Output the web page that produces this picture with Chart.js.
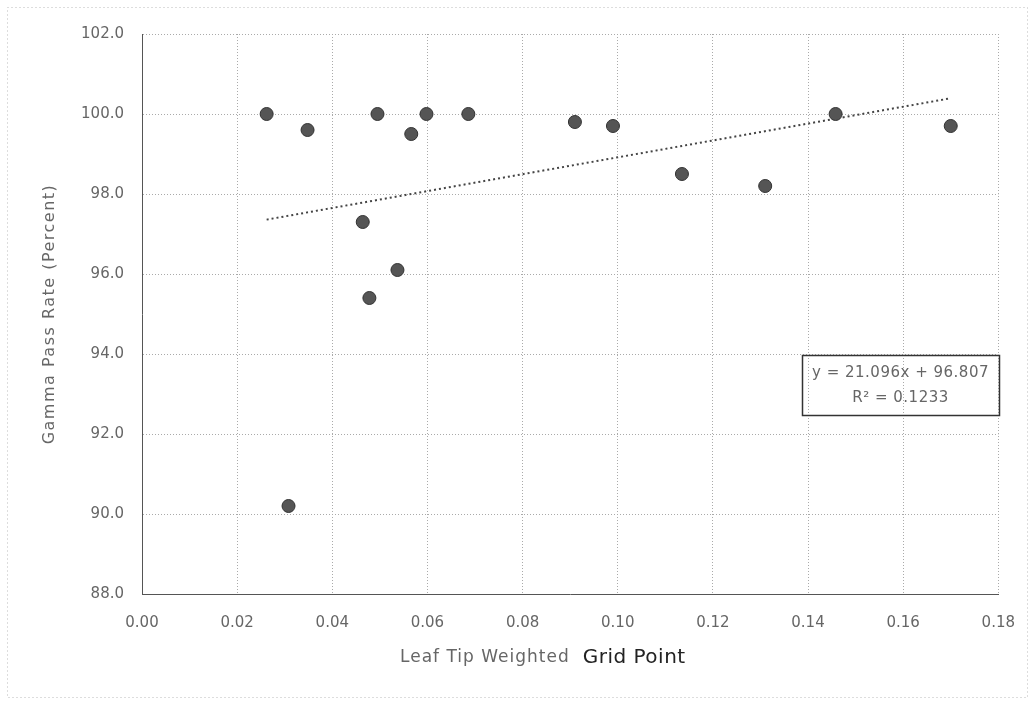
<!DOCTYPE html>
<html>
<head>
<meta charset="utf-8">
<script src="https://cdn.jsdelivr.net/npm/chart.js@4/dist/chart.umd.min.js"></script>
<style>
html,body{margin:0;padding:0;background:#fff;}
#wrap{width:1035px;height:701px;position:relative;}
</style>
</head>
<body>
<div id="wrap"><canvas id="c" width="1035" height="701"></canvas></div>
<script>
// Data
const leafTipX = [0.0262, 0.0348, 0.0495, 0.0566, 0.0598, 0.0686, 0.0910, 0.0990, 0.1135, 0.1310, 0.1458, 0.1700, 0.0464, 0.0478, 0.0537, 0.0308];
const gammaPass = [100.0, 99.6, 100.0, 99.5, 100.0, 100.0, 99.8, 99.7, 98.5, 98.2, 100.0, 99.7, 97.3, 95.4, 96.1, 90.2];
const trendSlope = 21.096;
const trendIntercept = 96.807;
const trendRange = [0.0262, 0.1700];
const xTicks = [0, 0.02, 0.04, 0.06, 0.08, 0.10, 0.12, 0.14, 0.16, 0.18];
const yTicks = [88, 90, 92, 94, 96, 98, 100, 102];
const equationLines = ['y = 21.096x + 96.807', 'R\u00B2 = 0.1233'];
const yTitle = 'Gamma Pass Rate (Percent)';
const xTitleParts = ['Leaf Tip Weighted', 'Grid Point'];

const scatterPts = leafTipX.map((x, i) => ({x: x, y: gammaPass[i]}));
const trendPts = trendRange.map(x => ({x: x, y: trendSlope * x + trendIntercept}));

const FONT = '"DejaVu Sans", "Liberation Sans", sans-serif';

const decor = {
  id: 'decor',
  beforeDraw(chart) {
    const ctx = chart.ctx;
    ctx.save();
    ctx.fillStyle = '#fff';
    ctx.fillRect(0, 0, chart.width, chart.height);
    ctx.strokeStyle = '#bbb';
    ctx.lineWidth = 1;
    ctx.setLineDash([1, 3]);
    ctx.strokeRect(7.5, 7.5, 1020, 690);
    ctx.restore();
  },
  afterDraw(chart) {
    const ctx = chart.ctx;
    ctx.save();
    // Equation box
    const bx = 802, by = 355, bw = 197, bh = 60;
    ctx.strokeStyle = '#333';
    ctx.lineWidth = 1.5;
    ctx.setLineDash([]);
    ctx.strokeRect(bx + 0.5, by + 0.5, bw, bh);
    ctx.fillStyle = '#666';
    ctx.font = '15px ' + FONT;
    ctx.letterSpacing = '0.5px';
    ctx.textAlign = 'center';
    ctx.textBaseline = 'middle';
    ctx.fillText(equationLines[0], bx + bw / 2, 373);
    ctx.fillText(equationLines[1], bx + bw / 2, 398);
    // Y title
    ctx.save();
    ctx.translate(50, 314);
    ctx.rotate(-Math.PI / 2);
    ctx.font = '16px ' + FONT;
    ctx.letterSpacing = '1.5px';
    ctx.fillStyle = '#666';
    ctx.fillText(yTitle, 0, 0);
    ctx.restore();
    // X title in two tones
    ctx.textAlign = 'left';
    ctx.letterSpacing = '1px';
    ctx.font = '17px ' + FONT;
    ctx.fillStyle = '#666';
    ctx.fillText(xTitleParts[0], 400, 658);
    const w1 = ctx.measureText(xTitleParts[0]).width;
    ctx.letterSpacing = '0.5px';
    ctx.font = '20px ' + FONT;
    ctx.fillStyle = '#222';
    ctx.fillText(xTitleParts[1], 400 + w1 + 13, 658);
    ctx.restore();
  }
};

new Chart(document.getElementById('c'), {
  type: 'scatter',
  data: {
    datasets: [
      {
        type: 'line',
        data: trendPts,
        borderColor: '#444',
        borderWidth: 2,
        borderDash: [2, 3],
        pointRadius: 0,
        fill: false,
        order: 2
      },
      {
        data: scatterPts,
        backgroundColor: '#555',
        borderColor: '#333',
        borderWidth: 1,
        pointRadius: 6.5,
        order: 1
      }
    ]
  },
  plugins: [decor],
  options: {
    responsive: false,
    animation: false,
    layout: {padding: {left: 8, top: 34, right: 35, bottom: 0}},
    plugins: {legend: {display: false}, tooltip: {enabled: false}},
    scales: {
      x: {
        type: 'linear',
        min: 0, max: 0.18,
        afterBuildTicks(s) { s.ticks = xTicks.map(v => ({value: v})); },
        afterFit(s) { s.height = 107; },
        ticks: {
          padding: 20,
          color: '#666',
          font: {size: 15, family: FONT},
          callback: v => v.toFixed(2)
        },
        grid: {color: '#aaa', lineWidth: 1, tickLength: 0, drawTicks: false},
        border: {color: '#555', dash: [1, 2]}
      },
      y: {
        type: 'linear',
        min: 88, max: 102,
        afterBuildTicks(s) { s.ticks = yTicks.map(v => ({value: v})); },
        afterFit(s) { s.width = 134; },
        ticks: {
          padding: 18,
          color: '#666',
          font: {size: 15, family: FONT},
          callback: v => v.toFixed(1)
        },
        grid: {color: '#aaa', lineWidth: 1, tickLength: 0, drawTicks: false},
        border: {color: '#555', dash: [1, 2]}
      }
    }
  }
});
</script>
</body>
</html>
